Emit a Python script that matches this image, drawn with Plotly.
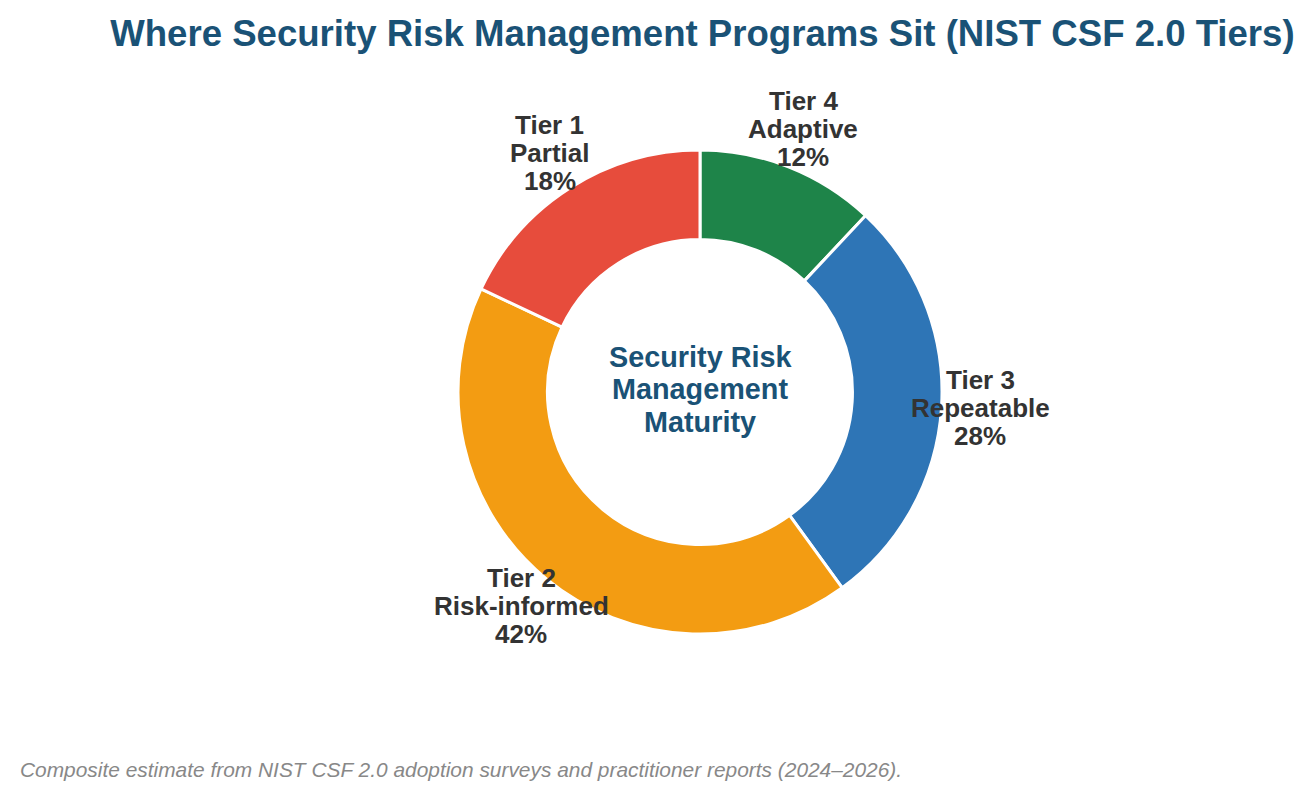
import math
import plotly.graph_objects as go

tiers = ["Tier 1", "Tier 2", "Tier 3", "Tier 4"]
names = ["Partial", "Risk-informed", "Repeatable", "Adaptive"]
shares = [18, 42, 28, 12]
colors = ["#E74C3C", "#F39C12", "#2E75B6", "#1E8449"]

FONT = "Liberation Sans, Arial, sans-serif"
W, H = 1313, 800
ml, mr, mt, mb = 87, 0, 150, 166
pw, ph = W - ml - mr, H - mt - mb
R = min(pw, ph) / 2          # pie radius in px
LABEL_DIST = 1.16            # label distance as fraction of radius

# Draw clockwise from 12 o'clock: Tier 4, Tier 3, Tier 2, Tier 1
order = list(reversed(range(len(tiers))))
fig = go.Figure(go.Pie(
    labels=[f"{tiers[i]} {names[i]}" for i in order],
    values=[shares[i] for i in order],
    textinfo="none",
    hole=0.63,
    sort=False,
    direction="clockwise",
    rotation=0,
    marker=dict(colors=[colors[i] for i in order], line=dict(color="white", width=3)),
    showlegend=False,
))

annotations = []
total = sum(shares)
cum = 0.0
for i in order:
    mid = cum + shares[i] / 2
    cum += shares[i]
    ang = math.radians(90 - 360 * mid / total)
    x = 0.5 + LABEL_DIST * R * math.cos(ang) / pw
    y = 0.5 + LABEL_DIST * R * math.sin(ang) / ph
    lines = [tiers[i], names[i], f"{shares[i]}%"]
    for j, ln in enumerate(lines):
        annotations.append(dict(
            text=f"<b>{ln}</b>", x=x, y=y, xref="paper", yref="paper",
            xanchor="center", yanchor="middle", yshift=(1 - j) * 28 + 2,
            showarrow=False, font=dict(family=FONT, size=26, color="#333333")))

center_lines = ["Security Risk", "Management", "Maturity"]
for j, ln in enumerate(center_lines):
    annotations.append(dict(
        text=f"<b>{ln}</b>", x=0.5, y=0.5, xref="paper", yref="paper",
        xanchor="center", yanchor="middle", yshift=(1 - j) * 32.5 + 3,
        showarrow=False, font=dict(family=FONT, size=28.8, color="#1A5276")))

annotations.append(dict(
    text="<i>Composite estimate from NIST CSF 2.0 adoption surveys and practitioner reports (2024–2026).</i>",
    x=(18 - ml) / pw, y=-(769 - (H - mb)) / ph,
    xref="paper", yref="paper", xanchor="left", yanchor="middle",
    showarrow=False, font=dict(family=FONT, size=20.9, color="#888888")))

fig.update_layout(
    width=W, height=H,
    margin=dict(l=ml, r=mr, t=mt, b=mb),
    paper_bgcolor="white", plot_bgcolor="white",
    font=dict(family=FONT),
    title=dict(
        text="<b>Where Security Risk Management Programs Sit (NIST CSF 2.0 Tiers)</b>",
        x=0.502, xref="paper", xanchor="center",
        y=1 - 33 / H, yref="container", yanchor="middle",
        font=dict(family=FONT, size=36.6, color="#1A5276"),
    ),
    annotations=annotations,
)

fig.write_html("out.html")
